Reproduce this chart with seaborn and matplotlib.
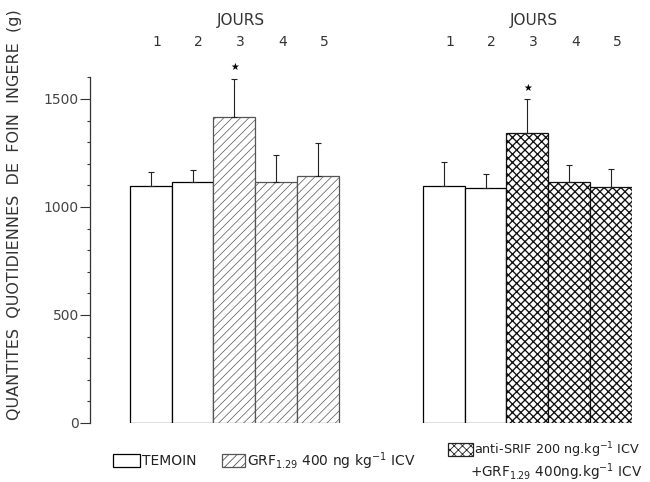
import numpy as np
import pandas as pd
import matplotlib
matplotlib.use("Agg")
import matplotlib.pyplot as plt
import seaborn as sns
from matplotlib.patches import Rectangle
from matplotlib.transforms import blended_transform_factory
from matplotlib.ticker import MultipleLocator

# ---- data ----
days = ["1", "2", "3", "4", "5"]
left_means = [1098, 1114, 1415, 1117, 1145]
left_err = [65, 57, 178, 122, 153]
right_means = [1098, 1089, 1344, 1116, 1091]
right_err = [109, 65, 154, 78, 85]
left_pos = [0, 1, 2, 3, 4]
right_pos = [7, 8, 9, 10, 11]
signif_day = 2  # index of day 3 (star)
yticks = [0, 500, 1000, 1500]
ylabel = "QUANTITES  QUOTIDIENNES  DE  FOIN  INGERE  (g)"

sns.set_style("white")
plt.rcParams["font.family"] = ["DejaVu Sans"]
plt.rcParams["mathtext.default"] = "regular"
plt.rcParams["hatch.linewidth"] = 0.6

df = pd.DataFrame({
    "pos": left_pos + right_pos,
    "val": left_means + right_means,
})

fig = plt.figure(figsize=(6.5, 4.82), dpi=100)
ax = fig.add_axes([90/650, 1-423/482, (632-90)/650, (423-77.4)/482])

sns.barplot(data=df, x="pos", y="val", native_scale=True, width=1.0,
            color="white", edgecolor="black", linewidth=0.9,
            errorbar=None, ax=ax)

patches = sorted(ax.patches, key=lambda p: p.get_x())
for i, p in enumerate(patches):
    p.set_facecolor("white")
    if i in (2, 3, 4):
        p.set_hatch("////")
        p.set_edgecolor("#555555")
        if hasattr(p, "set_hatch_linewidth"):
            p.set_hatch_linewidth(0.5)
    elif i in (7, 8, 9):
        p.set_hatch("xxxx")
        p.set_edgecolor("#111111")
        if hasattr(p, "set_hatch_linewidth"):
            p.set_hatch_linewidth(0.95)

allpos = left_pos + right_pos
allm = left_means + right_means
alle = left_err + right_err
ax.errorbar(allpos, allm, yerr=[np.zeros(len(alle)), alle], fmt="none",
            ecolor="#222222", elinewidth=0.8, capsize=2.2, capthick=0.8)

for pos, m, e in [(left_pos[signif_day], left_means[signif_day], left_err[signif_day]),
                  (right_pos[signif_day], right_means[signif_day], right_err[signif_day])]:
    ax.annotate("★", (pos, m + e), xytext=(0, 5), textcoords="offset points",
                ha="center", va="bottom", fontsize=7, color="black")

ax.set_xlim(-1.45, 11.5)
ax.set_ylim(0, 1600)
ax.set_yticks(yticks)
ax.set_yticklabels([str(t) for t in yticks], color="#444444", fontsize=10)
ax.yaxis.set_minor_locator(MultipleLocator(100))
ax.tick_params(axis="y", which="major", direction="out", length=7, width=0.8,
               pad=1, left=True, color="#333333")
ax.tick_params(axis="y", which="minor", direction="out", length=2.5, width=0.8,
               left=True, color="#333333")
ax.set_xticks([])
ax.set_xlabel("")
ax.set_ylabel("")
for s in ["top", "right", "bottom"]:
    ax.spines[s].set_visible(False)
ax.spines["left"].set_color("#333333")
ax.spines["left"].set_linewidth(0.9)

# top labels
tr = blended_transform_factory(ax.transData, fig.transFigure)
for grp in (left_pos, right_pos):
    for d, x in zip(days, grp):
        ax.text(x + 0.15, 1-42/482, d, transform=tr, ha="center", va="center",
                fontsize=10, color="#333333")
    ax.text(grp[2] + 0.15, 1-20/482, "JOURS", transform=tr, ha="center",
            va="center", fontsize=11, color="#333333")

fig.text(15/650, 1-215/482, ylabel, rotation=90, ha="center", va="center",
         fontsize=11.5, color="#333333")

# legend
def box(x0, x1, y0, y1, hatch=None, ec="black", lw=0.9):
    r = Rectangle((x0/650, 1-y1/482), (x1-x0)/650, (y1-y0)/482,
                  transform=fig.transFigure, facecolor="white", edgecolor=ec,
                  hatch=hatch, linewidth=lw)
    fig.patches.append(r)

box(113, 140, 454, 467)
fig.text(142/650, 1-461/482, "TEMOIN", ha="left", va="center", fontsize=10,
         color="#222222")
box(222, 245, 454, 467, hatch="////", ec="#555555")
fig.text(247/650, 1-461/482, "GRF$_{1.29}$ 400 ng kg$^{-1}$ ICV", ha="left",
         va="center", fontsize=10, color="#222222")
box(448, 473, 443, 456, hatch="xxxx", ec="#222222")
fig.text(474/650, 1-450/482, "anti-SRIF 200 ng.kg$^{-1}$ ICV", ha="left",
         va="center", fontsize=9.2, color="#222222")
fig.text(470/650, 1-472/482, "+GRF$_{1.29}$ 400ng.kg$^{-1}$ ICV", ha="left",
         va="center", fontsize=9.8, color="#222222")

fig.savefig("out.png", dpi=100)
